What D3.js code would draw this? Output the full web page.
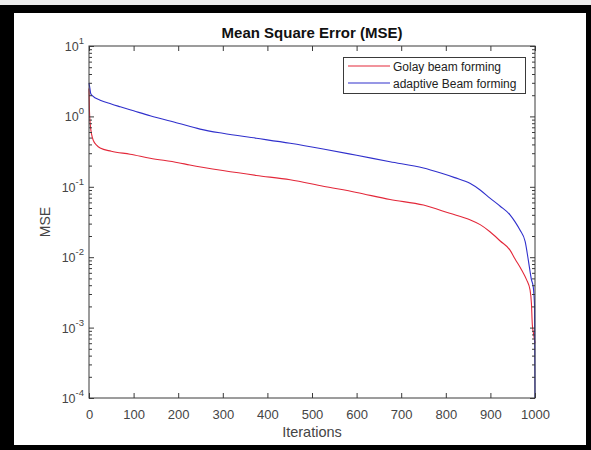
<!DOCTYPE html>
<html>
<head>
<meta charset="utf-8">
<script src="https://cdn.jsdelivr.net/npm/d3@7"></script>
<style>
  html, body { margin: 0; padding: 0; background: #fff; }
  svg { display: block; font-family: "Liberation Sans", Arial, sans-serif; }
</style>
</head>
<body>
<svg id="chart" width="591" height="450"></svg>
<script>
// ---- data ----
const golayIter = [0, 1, 3, 6, 10, 17, 25, 50, 92, 137, 200, 226, 300, 375, 451, 525, 600, 675, 750, 809, 854, 877, 899, 922, 944, 955, 970, 981, 989, 992, 994, 997, 1000];
const golayMSE  = [2.5, 1.2, 0.75, 0.55, 0.45, 0.39, 0.355, 0.32, 0.29, 0.255, 0.22, 0.204, 0.17, 0.145, 0.126, 0.102, 0.083, 0.066, 0.055, 0.042, 0.034, 0.029, 0.023, 0.017, 0.0126, 0.0095, 0.0066, 0.0048, 0.0034, 0.0022, 0.0011, 0.0008, 0.0006];
const adaptIter = [0, 2, 4, 8, 25, 50, 70, 100, 137, 200, 249, 300, 375, 451, 525, 600, 675, 750, 787, 820, 854, 877, 899, 922, 944, 955, 966, 978, 985, 992, 996, 999, 1000];
const adaptMSE  = [3.0, 2.5, 2.1, 1.95, 1.7, 1.5, 1.37, 1.2, 1.02, 0.8, 0.66, 0.575, 0.49, 0.415, 0.344, 0.28, 0.227, 0.185, 0.158, 0.135, 0.112, 0.090, 0.069, 0.053, 0.040, 0.032, 0.0245, 0.0166, 0.0091, 0.0048, 0.0038, 0.002, 0.0001];
const seriesNames = ["Golay beam forming", "adaptive Beam forming"];
const xTicks = [0, 100, 200, 300, 400, 500, 600, 700, 800, 900, 1000];
const yDecades = [1e-4, 1e-3, 1e-2, 1e-1, 1e0, 1e1];
const yExponents = ["-4", "-3", "-2", "-1", "0", "1"];
const titleText = "Mean Square Error (MSE)";
const xLabel = "Iterations";
const yLabel = "MSE";

// ---- layout ----
const W = 591, H = 450;
const plot = { left: 89, right: 535, top: 46, bottom: 398 };
const colors = ["#e3283a", "#3030cc"];
const axisColor = "#3a3a3a";
const textColor = "#454545";

const svg = d3.select("#chart");

// frame (black border around a white figure)
svg.append("rect").attr("x", 0).attr("y", 0).attr("width", W).attr("height", H).attr("fill", "#000");
svg.append("rect").attr("x", 0).attr("y", 0).attr("width", W).attr("height", 5).attr("fill", "#ececec");
svg.append("rect").attr("x", 14).attr("y", 13).attr("width", 572).attr("height", 432).attr("fill", "#fff");

const x = d3.scaleLinear().domain([0, 1000]).range([plot.left, plot.right]);
const y = d3.scaleLog().domain([1e-4, 10]).range([plot.bottom, plot.top]);

// minor tick values
const minorVals = [];
for (let e = -4; e < 1; e++) for (let m = 2; m <= 9; m++) minorVals.push(m * Math.pow(10, e));

// lines
const line = d3.line().x(d => x(d[0])).y(d => y(d[1])).curve(d3.curveMonotoneX);
const series = [
  golayIter.map((v, i) => [v, golayMSE[i]]),
  adaptIter.map((v, i) => [v, adaptMSE[i]])
];
const g = svg.append("g");
series.forEach((s, i) => {
  g.append("path").datum(s).attr("d", line)
    .attr("fill", "none").attr("stroke", colors[i]).attr("stroke-width", 1.1)
    .attr("stroke-linejoin", "round");
});

function styleAxis(sel) {
  sel.select(".domain").remove();
  sel.selectAll(".tick line").attr("stroke", axisColor).attr("stroke-width", 1);
  sel.selectAll(".tick text").attr("fill", textColor);
}

// x axes (bottom with labels, top ticks only)
const xb = svg.append("g").attr("transform", `translate(0,${plot.bottom})`)
  .call(d3.axisBottom(x).tickValues(xTicks).tickSizeInner(-5).tickSizeOuter(0).tickPadding(12).tickFormat(d3.format("d")));
styleAxis(xb);
xb.selectAll(".tick text").attr("font-size", 13).attr("font-family", "Liberation Sans, Arial, sans-serif");
const xt = svg.append("g").attr("transform", `translate(0,${plot.top})`)
  .call(d3.axisTop(x).tickValues(xTicks).tickSizeInner(-5).tickSizeOuter(0).tickFormat(""));
styleAxis(xt);

// y axes: majors and minors, left and right
const yl = svg.append("g").attr("transform", `translate(${plot.left},0)`)
  .call(d3.axisLeft(y).tickValues(yDecades).tickSizeInner(-5).tickSizeOuter(0).tickPadding(0).tickFormat(""));
styleAxis(yl);
const ylm = svg.append("g").attr("transform", `translate(${plot.left},0)`)
  .call(d3.axisLeft(y).tickValues(minorVals).tickSizeInner(-3).tickSizeOuter(0).tickFormat(""));
styleAxis(ylm);
const yr = svg.append("g").attr("transform", `translate(${plot.right},0)`)
  .call(d3.axisRight(y).tickValues(yDecades).tickSizeInner(-5).tickSizeOuter(0).tickFormat(""));
styleAxis(yr);
const yrm = svg.append("g").attr("transform", `translate(${plot.right},0)`)
  .call(d3.axisRight(y).tickValues(minorVals).tickSizeInner(-3).tickSizeOuter(0).tickFormat(""));
styleAxis(yrm);

// y tick labels 10^n
yDecades.forEach((v, i) => {
  const t = svg.append("text")
    .attr("x", plot.left - 5).attr("y", y(v) + 5)
    .attr("text-anchor", "end").attr("fill", textColor)
    .attr("font-size", 12.5);
  t.append("tspan").text("10");
  t.append("tspan").attr("dy", -7).attr("font-size", 9.5).text(yExponents[i]);
});

// axes box
svg.append("rect")
  .attr("x", plot.left).attr("y", plot.top)
  .attr("width", plot.right - plot.left).attr("height", plot.bottom - plot.top)
  .attr("fill", "none").attr("stroke", axisColor).attr("stroke-width", 1);

// title and labels
svg.append("text").attr("x", (plot.left + plot.right) / 2).attr("y", 38)
  .attr("text-anchor", "middle").attr("font-size", 15).attr("font-weight", "bold").attr("fill", "#111")
  .text(titleText);
svg.append("text").attr("x", (plot.left + plot.right) / 2).attr("y", 437)
  .attr("text-anchor", "middle").attr("font-size", 14.5).attr("fill", textColor)
  .text(xLabel);
svg.append("text").attr("transform", `translate(50,${(plot.top + plot.bottom) / 2}) rotate(-90)`)
  .attr("text-anchor", "middle").attr("font-size", 14).attr("fill", textColor)
  .text(yLabel);

// legend
const lg = svg.append("g");
lg.append("rect").attr("x", 343.5).attr("y", 57.5).attr("width", 182).attr("height", 36)
  .attr("fill", "#fff").attr("stroke", axisColor).attr("stroke-width", 1);
seriesNames.forEach((name, i) => {
  const yy = 66 + i * 17;
  lg.append("line").attr("x1", 348).attr("x2", 390).attr("y1", yy).attr("y2", yy)
    .attr("stroke", colors[i]).attr("stroke-width", 1.1);
  lg.append("text").attr("x", 393).attr("y", yy + 4.5).attr("font-size", 12).attr("fill", "#222")
    .text(name);
});
</script>
</body>
</html>
